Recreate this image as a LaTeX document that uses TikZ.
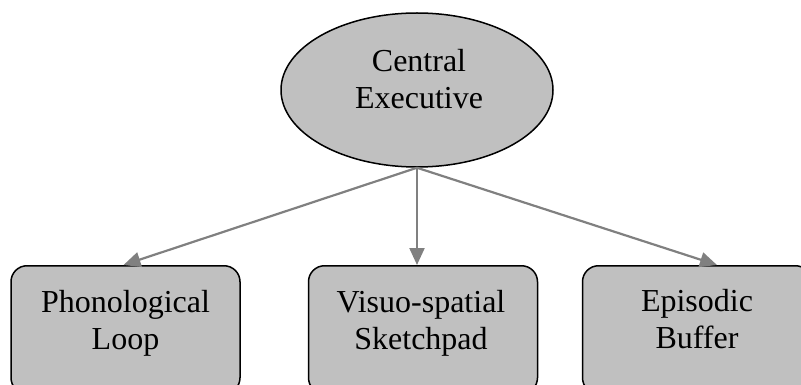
\documentclass[tikz,border=0pt]{standalone}
\usepackage{fontspec}
\setmainfont{Liberation Serif}
\usetikzlibrary{shapes.geometric,arrows.meta}
\definecolor{boxgray}{HTML}{C0C0C0}
\definecolor{arrgray}{HTML}{808080}
\tikzset{
  ceshape/.style={ellipse, draw=black, line width=1.5pt, fill=boxgray, minimum width=272pt, minimum height=154pt, inner sep=0pt},
  membox/.style={draw=black, line width=1.5pt, fill=boxgray, rounded corners=16pt, minimum width=229pt, minimum height=128pt, anchor=north, inner sep=0pt},
  lbl/.style={font=\fontsize{32}{37}\selectfont, align=center, inner sep=0pt},
  conn/.style={draw=arrgray, line width=2.2pt, -{Triangle[length=17pt,width=15pt]}}
}
\begin{document}
\begin{tikzpicture}[x=1pt,y=-1pt]
\useasboundingbox (0,0) rectangle (801,385);
\clip (0,0) rectangle (801,385);
\node[ceshape] (ce) at (417,90) {};
\node[lbl] (cet) at (419,83) {Central\strut\\Executive\strut};
\node[membox] (pl) at (125.5,265) {};
\node[membox] (vs) at (423,265) {};
\node[membox] (eb) at (697,265) {};
\node[lbl] (plt) at (125.5,324) {Phonological\strut\\Loop\strut};
\node[lbl] (vst) at (421,324) {Visuo-spatial\strut\\Sketchpad\strut};
\node[lbl] (ebt) at (697,323) {Episodic\strut\\Buffer\strut};
\coordinate (src) at (ce.south);
\draw[conn] (src) -- ([xshift=-2pt]pl.north);
\draw[conn] (src) -- ([xshift=-6pt]vs.north);
\draw[conn] (src) -- ([xshift=20pt]eb.north);
\end{tikzpicture}
\end{document}
